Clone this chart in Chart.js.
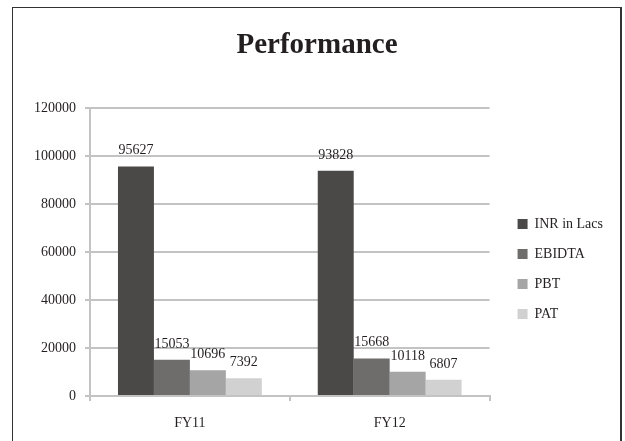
<!DOCTYPE html>
<html><head><meta charset="utf-8">
<script src="https://cdn.jsdelivr.net/npm/chart.js@4.4.1/dist/chart.umd.min.js"></script>
<style>
html,body{margin:0;padding:0;background:#fff;}
#wrap{position:relative;width:625px;height:441px;overflow:hidden;background:#fff;}
#frame{position:absolute;left:12px;top:7px;width:610px;height:470px;border:1px solid #333;border-right-width:2px;box-sizing:border-box;pointer-events:none;}
canvas{position:absolute;left:0;top:0;}
</style></head><body>
<div id="wrap"><canvas id="c" width="625" height="441" style="width:625px;height:441px"></canvas><div id="frame"></div></div>
<script>
const categories = ['FY11', 'FY12'];
const seriesNames = ['INR in Lacs', 'EBIDTA', 'PBT', 'PAT'];
const inrInLacs = [95627, 93828];
const ebidta = [15053, 15668];
const pbt = [10696, 10118];
const pat = [7392, 6807];
const yMin = 0, yMax = 120000, yStep = 20000;
const seriesColors = ['#4b4947', '#6f6d6b', '#a6a5a5', '#d1d1d1'];

const FONT = '"Liberation Serif", "Times New Roman", serif';
const TEXT = '#231f20';
const GRID = '#c3c3c3';

const barValueLabels = {
  id: 'barValueLabels',
  afterDatasetsDraw(chart) {
    const ctx = chart.ctx;
    ctx.save();
    ctx.font = '14px ' + FONT;
    ctx.fillStyle = TEXT;
    ctx.textAlign = 'center';
    ctx.textBaseline = 'alphabetic';
    chart.data.datasets.forEach((ds, i) => {
      chart.getDatasetMeta(i).data.forEach((bar, j) => {
        ctx.fillText(String(ds.data[j]), bar.x, bar.y - 12);
      });
    });
    ctx.restore();
  }
};

const values = [inrInLacs, ebidta, pbt, pat];
new Chart(document.getElementById('c'), {
  type: 'bar',
  data: {
    labels: categories,
    datasets: seriesNames.map((n, i) => ({
      label: n,
      data: values[i],
      backgroundColor: seriesColors[i],
      borderWidth: 0,
      categoryPercentage: 0.72,
      barPercentage: 1.0
    }))
  },
  options: {
    responsive: false,
    animation: false,
    devicePixelRatio: 1,
    layout: { padding: { left: 21, right: 12, top: 0, bottom: 0 } },
    plugins: {
      tooltip: { enabled: false },
      title: {
        display: true,
        text: 'Performance',
        color: TEXT,
        font: { family: FONT, size: 29, weight: 'bold', lineHeight: 1.2 },
        padding: { top: 28, bottom: 45.2 }
      },
      legend: {
        position: 'right',
        fullSize: false,
        title: { display: true, text: '', font: { size: 10, lineHeight: 1.2 }, padding: { top: 22, bottom: 0 } },
        labels: {
          boxWidth: 10, boxHeight: 10, padding: 16,
          color: TEXT,
          font: { family: FONT, size: 14 }
        }
      }
    },
    scales: {
      x: {
        grid: { display: true, drawOnChartArea: false, drawTicks: true, tickLength: 5, offset: true, color: GRID, lineWidth: 2 },
        border: { display: true, color: GRID, width: 2 },
        ticks: { color: TEXT, font: { family: FONT, size: 14 }, padding: 14 },
        afterFit: s => { s.height = 45; }
      },
      y: {
        min: yMin, max: yMax,
        grid: { color: GRID, lineWidth: 2, drawTicks: true, tickLength: 5 },
        border: { display: true, color: GRID, width: 2 },
        ticks: { stepSize: yStep, color: TEXT, font: { family: FONT, size: 14 }, padding: 9, callback: v => String(v) },
        afterFit: s => { s.width = 69; }
      },
      yPad: {
        type: 'linear', axis: 'y', position: 'right', display: false,
        afterFit: s => { s.width = 12; }
      }
    }
  },
  plugins: [barValueLabels]
});
</script>
</body></html>
